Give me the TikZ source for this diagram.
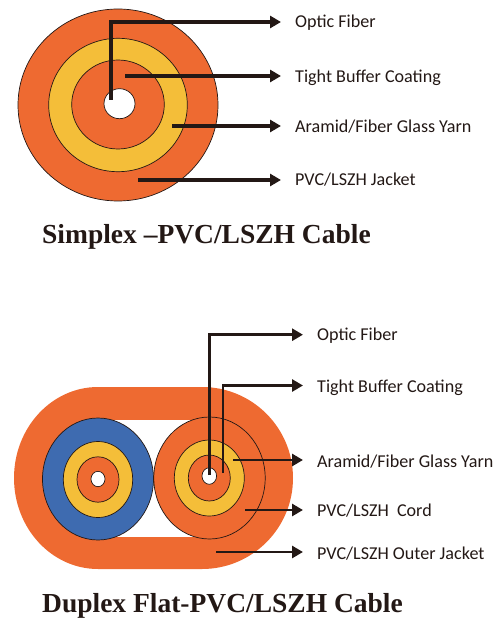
\documentclass[tikz,border=0pt]{standalone}
\usepackage{fontspec}
\setmainfont{Carlito}
\newfontfamily\titlefont{Liberation Serif}
\usetikzlibrary{arrows.meta}
\definecolor{cOrange}{HTML}{EE6A31}
\definecolor{cYellow}{HTML}{F4BE39}
\definecolor{cBlue}{HTML}{3E6BB0}
\definecolor{cLine}{HTML}{231815}
\tikzset{
  ring/.style={draw=cLine,line width=0.7pt},
  lbl/.style={anchor=west,inner xsep=14pt,inner ysep=0pt,font=\fontsize{18.1}{20}\selectfont,text=cLine},
  leader/.style={draw=cLine,line width=3.3pt,-{Triangle[length=11pt,width=12pt]}},
  leaderb/.style={draw=cLine,line width=2.9pt,-{Triangle[length=11pt,width=12pt]}},
  ttl/.style={anchor=west,inner sep=0pt,font=\titlefont\bfseries\fontsize{27.5}{30}\selectfont,text=cLine},
}
\begin{document}
\begin{tikzpicture}[x=1pt,y=-1pt]
\useasboundingbox (0,0) rectangle (501,628);
% Simplex
\draw[ring,fill=cOrange] (118,105) ellipse [x radius=100,y radius=96];
\draw[ring,fill=cYellow] (118,105) ellipse [x radius=69.3,y radius=66.7];
\draw[ring,fill=cOrange] (118,104.5) ellipse [x radius=46.3,y radius=44.5];
\draw[ring,fill=white] (119.5,103.7) ellipse [x radius=15.5,y radius=15];
\node[lbl] (a1) at (281,23) {Optic Fiber};
\node[lbl] (a2) at (281,78) {Tight Buffer Coating};
\node[lbl] (a3) at (281,127) {Aramid/Fiber Glass Yarn};
\node[lbl] (a4) at (281,180) {PVC/LSZH Jacket};
\coordinate (s1) at (111,100);
\coordinate (e1) at (200,22);
\coordinate (s2) at (125,76);
\coordinate (s3) at (172,126);
\coordinate (s4) at (138,180);
\draw[leader] (s1) |- (e1 -| a1.west);
\draw[leader] (s2) -- (s2 -| a2.west);
\draw[leader] (s3) -- (s3 -| a3.west);
\draw[leader] (s4) -- (s4 -| a4.west);
\node[ttl] (t1) at (42,236.5) {Simplex –PVC/LSZH Cable};
% Duplex
\fill[cOrange] (98,387) -- (202,387) arc[start angle=-90,end angle=90,radius=91] -- (98,569) arc[start angle=90,end angle=270,x radius=84,y radius=91] -- cycle;
\fill[white] (98,419.5) rectangle (209,537);
\draw[ring,fill=cBlue] (98,479) ellipse [x radius=55.5,y radius=61];
\draw[ring,fill=cYellow] (98,479.5) ellipse [x radius=34.7,y radius=38];
\draw[ring,fill=cOrange] (98,479.5) ellipse [x radius=21,y radius=22.7];
\draw[ring,fill=white] (98,479) ellipse [x radius=7,y radius=7.7];
\draw[ring,fill=cOrange] (209.5,478) ellipse [x radius=55.7,y radius=61];
\draw[ring,fill=cYellow] (209.3,478) ellipse [x radius=35,y radius=38];
\draw[ring,fill=cOrange] (209.3,478) ellipse [x radius=21,y radius=23];
\draw[ring,fill=white] (209.3,476) ellipse [x radius=7.3,y radius=8.3];
\node[lbl] (b1) at (303,335.5) {Optic Fiber};
\node[lbl] (b2) at (303,387.5) {Tight Buffer Coating};
\node[lbl] (b3) at (303,461.5) {Aramid/Fiber Glass Yarn};
\node[lbl] (b4) at (303,510.5) {PVC/LSZH\ \ Cord};
\node[lbl] (b5) at (303,553.5) {PVC/LSZH Outer Jacket};
\coordinate (u1) at (209.3,475);
\coordinate (f1) at (250,334.7);
\coordinate (u2) at (223,473);
\coordinate (f2) at (250,385.5);
\coordinate (u3) at (233,460);
\coordinate (u4) at (245,510);
\coordinate (u5) at (216,552);
\draw[leaderb] (u1) |- (f1 -| b1.west);
\draw[leaderb] (u2) |- (f2 -| b2.west);
\draw[leaderb] (u3) -- (u3 -| b3.west);
\draw[leaderb] (u4) -- (u4 -| b4.west);
\draw[leaderb] (u5) -- (u5 -| b5.west);
\node[ttl] (t2) at (42,605.5) {Duplex Flat-PVC/LSZH Cable};
\end{tikzpicture}
\end{document}
